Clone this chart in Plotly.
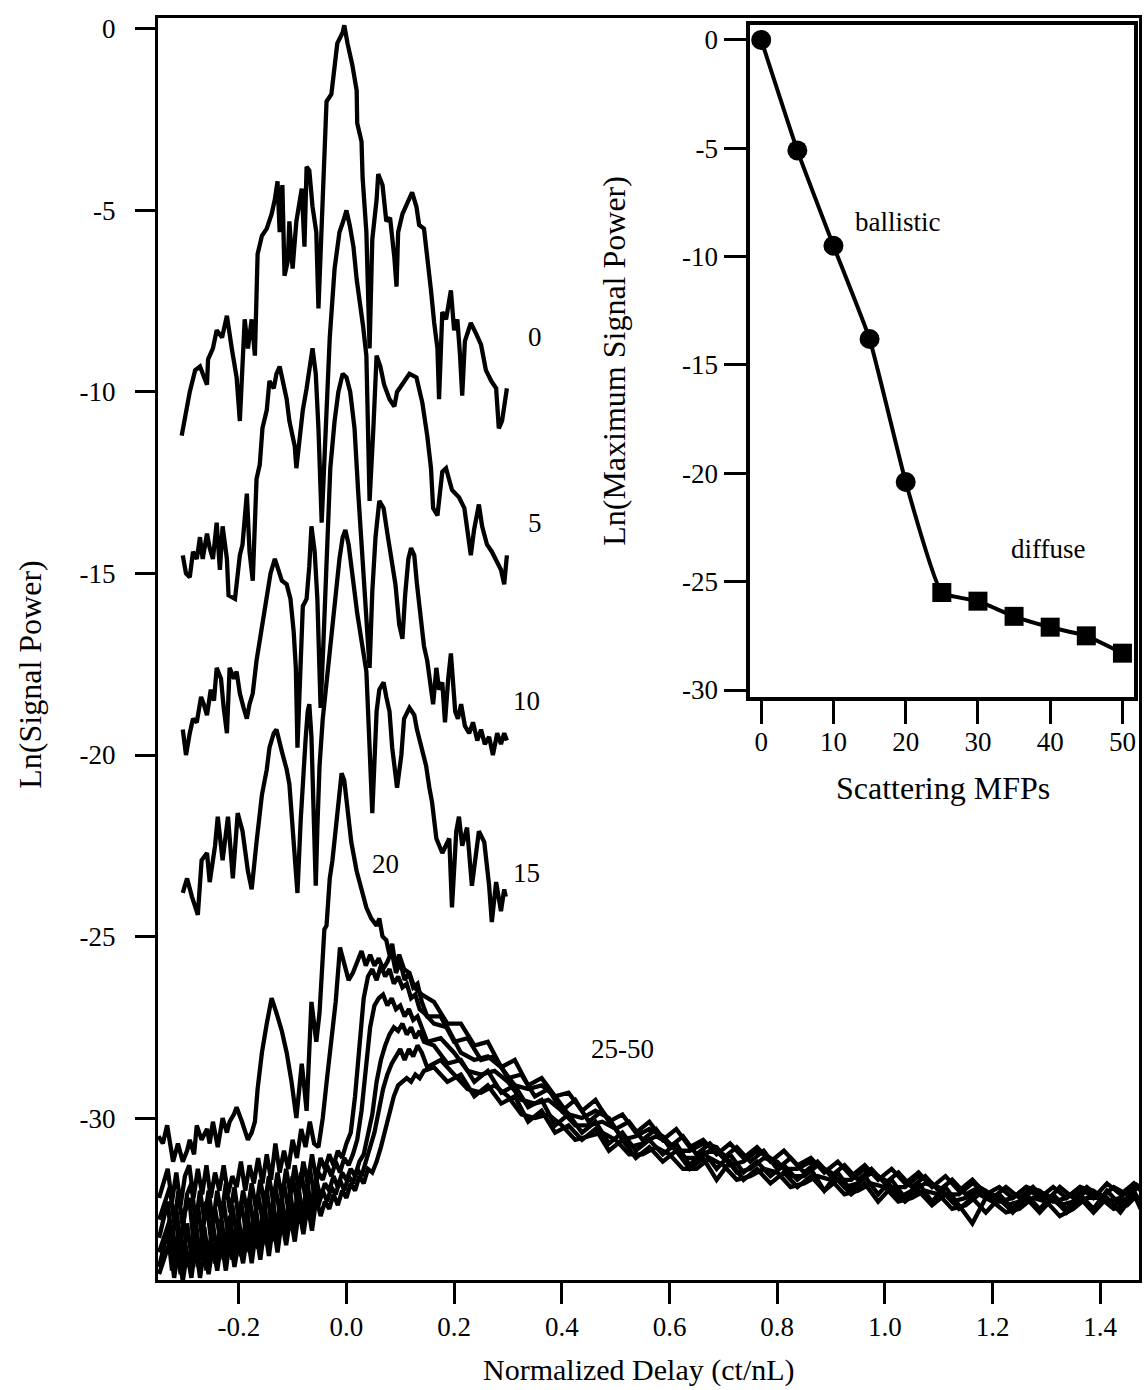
import plotly.graph_objects as go

FONT = "Liberation Serif, Times New Roman, serif"

# ---------------- main panel: ballistic traces (x = normalized delay, y = ln power) -------------
T0 = [(-0.306,-11.2),(-0.291,-10.0),(-0.281,-9.4),(-0.272,-9.3),(-0.259,-9.8),(-0.257,-9.1),(-0.248,-8.8),
      (-0.241,-8.3),(-0.231,-8.5),(-0.222,-7.9),(-0.213,-8.8),(-0.204,-9.6),(-0.198,-10.8),(-0.194,-9.3),
      (-0.189,-8.0),(-0.183,-8.8),(-0.176,-8.0),(-0.170,-9.0),(-0.167,-7.5),(-0.165,-6.2),(-0.157,-5.7),
      (-0.148,-5.5),(-0.139,-5.1),(-0.133,-4.7),(-0.128,-4.2),(-0.124,-5.6),(-0.119,-4.3),(-0.115,-6.8),
      (-0.109,-6.4),(-0.106,-5.3),(-0.100,-6.6),(-0.093,-5.3),(-0.083,-4.4),(-0.078,-6.0),(-0.074,-3.8),
      (-0.069,-3.9),(-0.063,-4.9),(-0.056,-5.6),(-0.052,-7.7),(-0.044,-4.3),(-0.041,-3.1),(-0.037,-2.0),
      (-0.028,-1.8),(-0.022,-1.0),(-0.017,-0.4),(-0.007,-0.1),(-0.004,0.1),(0.002,-0.4),(0.011,-1.0),
      (0.019,-1.7),(0.020,-2.6),(0.028,-3.1),(0.030,-4.1),(0.037,-5.6),(0.039,-7.0),(0.043,-8.8),
      (0.048,-5.8),(0.056,-4.7),(0.059,-4.0),(0.067,-4.3),(0.074,-5.3),(0.081,-5.2),(0.089,-6.3),
      (0.093,-7.1),(0.096,-5.6),(0.104,-5.1),(0.113,-4.8),(0.122,-4.5),(0.130,-4.9),(0.135,-5.4),
      (0.144,-5.5),(0.150,-6.2),(0.157,-7.2),(0.163,-8.1),(0.169,-8.8),(0.172,-10.2),(0.178,-7.8),
      (0.185,-8.0),(0.194,-7.2),(0.200,-8.3),(0.206,-8.0),(0.211,-9.0),(0.215,-10.1),(0.220,-8.6),
      (0.231,-8.1),(0.241,-8.4),(0.250,-8.7),(0.259,-9.4),(0.269,-9.7),(0.278,-9.9),(0.283,-11.0),
      (0.289,-10.8),(0.296,-10.2),(0.298,-9.9)]

T5 = [(-0.304,-14.5),(-0.298,-15.0),(-0.291,-15.1),(-0.285,-14.4),(-0.278,-14.6),(-0.272,-14.0),
      (-0.267,-14.6),(-0.259,-13.9),(-0.254,-14.3),(-0.248,-14.6),(-0.241,-13.6),(-0.235,-14.9),
      (-0.230,-13.7),(-0.222,-14.6),(-0.219,-15.6),(-0.207,-15.7),(-0.198,-14.5),(-0.193,-14.2),
      (-0.185,-12.8),(-0.180,-14.4),(-0.174,-15.2),(-0.170,-13.9),(-0.167,-12.4),(-0.161,-12.0),
      (-0.156,-11.0),(-0.148,-10.5),(-0.143,-9.7),(-0.135,-9.9),(-0.130,-9.5),(-0.124,-9.3),
      (-0.119,-9.6),(-0.111,-10.2),(-0.106,-10.8),(-0.096,-11.5),(-0.093,-12.1),(-0.087,-11.2),
      (-0.081,-10.5),(-0.074,-9.9),(-0.069,-9.3),(-0.063,-8.8),(-0.057,-9.5),(-0.052,-11.0),
      (-0.046,-13.6),(-0.041,-12.0),(-0.031,-8.5),(-0.022,-6.6),(-0.013,-5.6),(-0.006,-5.3),
      (0.000,-5.0),(0.006,-5.4),(0.013,-6.0),(0.019,-6.9),(0.026,-7.6),(0.031,-8.2),(0.037,-9.0),
      (0.043,-13.0),(0.050,-11.0),(0.056,-9.0),(0.063,-9.3),(0.070,-9.8),(0.080,-10.2),(0.089,-10.4),
      (0.094,-10.0),(0.104,-9.8),(0.117,-9.5),(0.130,-9.6),(0.141,-10.3),(0.150,-11.2),(0.157,-12.1),
      (0.161,-13.2),(0.169,-13.4),(0.178,-12.2),(0.185,-12.1),(0.196,-12.7),(0.209,-12.9),(0.219,-13.2),
      (0.224,-13.7),(0.231,-14.5),(0.237,-13.8),(0.246,-13.1),(0.252,-13.7),(0.261,-14.2),(0.270,-14.4),
      (0.280,-14.7),(0.287,-14.9),(0.293,-15.3),(0.298,-14.5)]

T10 = [(-0.304,-19.3),(-0.298,-20.0),(-0.291,-19.4),(-0.285,-19.0),(-0.278,-19.1),(-0.270,-18.4),
       (-0.265,-18.6),(-0.259,-18.9),(-0.252,-18.2),(-0.246,-18.5),(-0.241,-17.6),(-0.233,-17.9),
       (-0.228,-18.7),(-0.222,-19.4),(-0.217,-17.6),(-0.209,-17.9),(-0.204,-17.7),(-0.198,-18.3),
       (-0.191,-18.7),(-0.185,-19.0),(-0.180,-18.6),(-0.174,-18.3),(-0.167,-17.4),(-0.161,-16.8),
       (-0.156,-16.3),(-0.148,-15.6),(-0.141,-15.0),(-0.133,-14.6),(-0.128,-14.8),(-0.120,-15.2),
       (-0.111,-15.3),(-0.104,-15.7),(-0.098,-16.6),(-0.094,-17.6),(-0.091,-19.8),(-0.085,-17.4),
       (-0.081,-15.9),(-0.074,-15.7),(-0.069,-14.8),(-0.065,-13.7),(-0.059,-14.4),(-0.054,-15.7),
       (-0.048,-18.7),(-0.043,-17.0),(-0.037,-14.5),(-0.030,-12.1),(-0.022,-10.8),(-0.015,-10.0),
       (-0.007,-9.5),(0.000,-9.6),(0.007,-10.0),(0.015,-11.0),(0.022,-12.8),(0.030,-14.5),(0.037,-16.0),
       (0.043,-17.6),(0.048,-15.5),(0.054,-14.0),(0.061,-13.0),(0.069,-13.2),(0.076,-13.9),(0.083,-14.6),
       (0.091,-15.3),(0.098,-16.4),(0.104,-16.8),(0.109,-15.6),(0.115,-14.6),(0.120,-14.3),(0.126,-14.5),
       (0.131,-15.3),(0.137,-16.0),(0.144,-17.0),(0.150,-17.4),(0.156,-18.1),(0.161,-18.6),(0.167,-17.6),
       (0.172,-18.2),(0.178,-18.0),(0.183,-19.1),(0.189,-17.9),(0.194,-17.2),(0.202,-18.8),(0.207,-19.0),
       (0.213,-18.6),(0.220,-19.2),(0.228,-19.4),(0.235,-19.1),(0.243,-19.6),(0.250,-19.3),(0.257,-19.7),
       (0.265,-19.5),(0.272,-20.0),(0.280,-19.4),(0.287,-19.7),(0.293,-19.4),(0.298,-19.6)]

T15 = [(-0.304,-23.8),(-0.296,-23.4),(-0.287,-23.9),(-0.276,-24.4),(-0.269,-22.9),(-0.259,-22.7),
       (-0.254,-23.5),(-0.244,-22.5),(-0.239,-21.7),(-0.230,-22.9),(-0.220,-21.7),(-0.211,-23.4),
       (-0.202,-21.6),(-0.193,-22.1),(-0.183,-23.2),(-0.176,-23.7),(-0.167,-22.4),(-0.157,-21.1),
       (-0.148,-20.4),(-0.143,-19.8),(-0.135,-19.4),(-0.130,-19.3),(-0.120,-19.9),(-0.111,-20.4),
       (-0.106,-20.8),(-0.100,-22.0),(-0.094,-23.0),(-0.091,-23.8),(-0.085,-21.8),(-0.081,-20.7),
       (-0.076,-19.6),(-0.072,-18.8),(-0.069,-18.6),(-0.065,-19.5),(-0.061,-21.5),(-0.057,-23.6),
       (-0.054,-22.0),(-0.050,-20.3),(-0.044,-19.0),(-0.037,-18.0),(-0.031,-17.0),(-0.024,-16.0),
       (-0.019,-15.3),(-0.013,-14.6),(-0.007,-14.0),(-0.002,-13.8),(0.004,-14.2),(0.009,-14.9),
       (0.015,-15.5),(0.020,-16.1),(0.030,-17.0),(0.037,-17.7),(0.043,-19.8),(0.048,-21.6),(0.052,-20.2),
       (0.056,-18.8),(0.061,-18.2),(0.069,-18.0),(0.074,-18.4),(0.080,-18.8),(0.085,-19.8),(0.091,-20.4),
       (0.094,-20.9),(0.102,-20.0),(0.107,-19.0),(0.117,-18.7),(0.126,-18.9),(0.131,-19.3),(0.139,-19.8),
       (0.148,-20.3),(0.154,-20.9),(0.159,-21.3),(0.167,-22.3),(0.178,-22.7),(0.191,-22.3),(0.196,-24.2),
       (0.204,-22.1),(0.209,-21.7),(0.215,-22.5),(0.224,-22.0),(0.233,-23.6),(0.241,-22.6),(0.246,-22.1),
       (0.256,-22.4),(0.265,-23.6),(0.270,-24.6),(0.278,-23.5),(0.287,-24.3),(0.293,-23.7),(0.296,-23.9)]

# ---------------- main panel: 20 MFP trace (own early grid) -------------
T20_EARLY = [(-0.349,-30.5),(-0.341,-30.7),(-0.333,-30.2),(-0.328,-30.6),(-0.322,-31.2),(-0.313,-30.7),
             (-0.304,-31.2),(-0.296,-30.9),(-0.291,-30.6),(-0.283,-31.0),(-0.278,-30.2),(-0.269,-30.6),
             (-0.259,-30.3),(-0.254,-30.7),(-0.248,-30.1),(-0.239,-30.8),(-0.230,-30.0),(-0.222,-30.4),
             (-0.217,-30.1),(-0.209,-29.9),(-0.204,-29.7),(-0.194,-30.1),(-0.183,-30.6),(-0.176,-30.4),
             (-0.170,-30.1),(-0.165,-29.2),(-0.157,-28.2),(-0.148,-27.4),(-0.139,-26.7),(-0.130,-27.1),
             (-0.120,-27.6),(-0.111,-28.2),(-0.102,-29.0),(-0.093,-30.0),(-0.083,-28.5),(-0.078,-29.2),
             (-0.074,-29.8),(-0.065,-26.8),(-0.059,-27.5),(-0.056,-27.9),(-0.050,-27.1),(-0.044,-25.7),
             (-0.041,-24.8),(-0.037,-24.7),(-0.031,-23.4),(-0.026,-22.9),(-0.019,-22.0),(-0.013,-21.2),
             (-0.009,-20.5),(-0.004,-20.7),(0.002,-21.5),(0.009,-22.4),(0.019,-23.2),(0.028,-23.7),
             (0.037,-24.2),(0.046,-24.5),(0.056,-24.7),(0.061,-24.5),(0.067,-25.0),(0.074,-25.1),
             (0.080,-25.5),(0.085,-25.2),(0.091,-25.8),(0.098,-25.5),(0.107,-25.9),(0.117,-26.0),
             (0.126,-26.4),(0.140,-26.6)]

# ---------------- main panel: diffuse traces 25..50 on two interleaved delay grids -------------
LX = [-0.348, -0.332, -0.324, -0.316, -0.308, -0.300, -0.292, -0.284, -0.276, -0.268,
      -0.260, -0.252, -0.244, -0.236, -0.228, -0.220, -0.212, -0.204, -0.196, -0.188,
      -0.180, -0.172, -0.164, -0.156, -0.148, -0.140, -0.132, -0.124, -0.116, -0.108,
      -0.100, -0.092, -0.084, -0.076, -0.068, -0.060, -0.052, -0.044, -0.036, -0.028,
      -0.020, -0.012, -0.004, 0.004, 0.012, 0.020, 0.028, 0.036, 0.044, 0.052,
      0.060, 0.068, 0.076, 0.084, 0.092, 0.100, 0.108, 0.116, 0.124, 0.132, 0.140]
LX_B = [-0.348, -0.328, -0.320, -0.312, -0.304, -0.296, -0.288, -0.280, -0.272, -0.264,
        -0.256, -0.248, -0.240, -0.232, -0.224, -0.216, -0.208, -0.200, -0.192, -0.184,
        -0.176, -0.168, -0.160, -0.152, -0.144, -0.136, -0.128, -0.120, -0.112, -0.104,
        -0.096, -0.088, -0.080, -0.072, -0.064, -0.056, -0.048, -0.040, -0.032, -0.024,
        -0.016, -0.008, 0.000, 0.008, 0.016, 0.024, 0.032, 0.040, 0.048, 0.056,
        0.064, 0.072, 0.080, 0.088, 0.096, 0.104, 0.112, 0.120, 0.128, 0.136, 0.144]
TX = [0.150, 0.175, 0.200, 0.225, 0.250, 0.275, 0.300, 0.325, 0.350, 0.375,
      0.400, 0.425, 0.450, 0.475, 0.500, 0.525, 0.550, 0.575, 0.600, 0.625,
      0.650, 0.675, 0.700, 0.725, 0.750, 0.775, 0.800, 0.825, 0.850, 0.875,
      0.900, 0.925, 0.950, 0.975, 1.000, 1.025, 1.050, 1.075, 1.100, 1.125,
      1.150, 1.175, 1.200, 1.225, 1.250, 1.275, 1.300, 1.325, 1.350, 1.375,
      1.400, 1.425, 1.450, 1.470]
TX_B = [0.1625, 0.1875, 0.2125, 0.2375, 0.2625, 0.2875, 0.3125, 0.3375, 0.3625, 0.3875,
        0.4125, 0.4375, 0.4625, 0.4875, 0.5125, 0.5375, 0.5625, 0.5875, 0.6125, 0.6375,
        0.6625, 0.6875, 0.7125, 0.7375, 0.7625, 0.7875, 0.8125, 0.8375, 0.8625, 0.8875,
        0.9125, 0.9375, 0.9625, 0.9875, 1.0125, 1.0375, 1.0625, 1.0875, 1.1125, 1.1375,
        1.1625, 1.1875, 1.2125, 1.2375, 1.2625, 1.2875, 1.3125, 1.3375, 1.3625, 1.3875,
        1.4125, 1.4375, 1.4625, 1.4750]

Y20_TAIL = [-26.8, -27.4, -27.4, -28.0, -27.9, -28.6, -28.4, -29.1, -28.9, -29.4,
            -29.3, -29.8, -29.5, -30.1, -29.9, -30.4, -30.1, -30.6, -30.3, -30.8,
            -30.6, -31.0, -30.7, -31.1, -30.8, -31.2, -30.9, -31.3, -31.1, -31.5,
            -31.2, -31.6, -31.3, -31.7, -31.4, -31.8, -31.5, -31.9, -31.6, -32.0,
            -31.7, -32.1, -31.9, -32.2, -31.9, -32.2, -31.9, -32.2, -31.9, -32.2,
            -31.8, -32.1, -31.8, -32.0]

Y25_EARLY = [-32.2, -31.4, -32.3, -31.5, -32.4, -31.6, -31.3, -32.2, -31.4, -32.1,
             -31.3, -32.2, -31.5, -32.0, -31.3, -32.1, -31.6, -31.9, -31.2, -32.0,
             -31.3, -31.8, -31.1, -31.8, -31.0, -31.7, -30.7, -31.5, -30.9, -31.4,
             -30.6, -31.1, -30.3, -30.8, -30.1, -30.7, -30.8, -30.0, -28.9, -27.8,
             -26.8, -25.3, -25.7, -26.2, -26.0, -25.7, -25.4, -25.8, -25.5, -25.8,
             -25.6, -25.9, -25.7, -25.4, -26.0, -25.7, -26.2, -26.0, -26.4, -26.3, -26.8]
Y25_TAIL = [-27.2, -27.2, -27.9, -27.8, -28.4, -28.3, -28.9, -28.8, -29.4, -29.2,
            -29.8, -29.5, -30.1, -29.8, -30.3, -30.1, -30.6, -30.3, -30.8, -30.5,
            -31.0, -30.7, -31.1, -30.8, -31.2, -30.9, -31.4, -31.1, -31.5, -31.2,
            -31.6, -31.3, -31.7, -31.4, -31.8, -31.5, -31.9, -31.6, -32.0, -31.7,
            -32.1, -31.9, -32.2, -31.9, -32.2, -31.9, -32.3, -31.9, -32.2, -31.9,
            -32.2, -31.9, -32.1, -31.8]

Y30_EARLY = [-32.8, -31.9, -32.9, -32.0, -33.0, -32.1, -31.8, -32.9, -32.0, -32.8,
             -32.0, -32.9, -32.0, -32.7, -31.8, -32.6, -31.9, -32.8, -32.0, -32.6,
             -31.8, -32.5, -31.7, -32.4, -31.6, -32.3, -31.5, -32.2, -31.4, -32.1,
             -31.3, -32.0, -31.2, -31.8, -31.0, -31.7, -31.1, -31.4, -31.0, -31.3,
             -30.9, -31.1, -30.7, -30.4, -29.4, -28.0, -26.7, -26.1, -25.9, -26.2,
             -25.8, -26.1, -25.9, -26.3, -26.1, -26.4, -26.3, -26.7, -26.6, -27.0, -27.1]
Y30_TAIL = [-27.4, -27.5, -28.2, -28.4, -28.3, -28.6, -29.1, -29.2, -29.1, -29.4,
            -29.9, -30.0, -29.8, -30.0, -30.6, -30.5, -30.3, -30.5, -30.9, -30.9,
            -30.7, -30.8, -31.3, -31.2, -30.9, -31.1, -31.4, -31.4, -31.2, -31.4,
            -31.7, -31.7, -31.4, -31.6, -31.9, -31.9, -31.6, -31.8, -32.1, -32.1,
            -31.8, -32.0, -32.3, -32.2, -31.9, -32.0, -32.3, -32.2, -31.9, -32.0,
            -32.3, -32.2, -31.8, -31.9]

Y35_EARLY = [-33.3, -32.3, -33.5, -32.5, -33.5, -32.6, -32.2, -33.4, -32.4, -33.3,
             -32.3, -33.3, -32.5, -33.2, -32.3, -33.2, -32.4, -33.2, -32.3, -33.0,
             -32.2, -33.0, -32.1, -32.8, -32.0, -32.8, -31.9, -32.6, -31.8, -32.5,
             -31.6, -32.3, -31.5, -32.2, -31.4, -32.1, -31.5, -31.7, -31.3, -31.6,
             -31.2, -31.5, -31.1, -31.3, -31.0, -30.6, -29.8, -28.6, -27.5, -26.9,
             -26.7, -26.6, -26.9, -26.7, -27.0, -26.9, -27.2, -27.0, -27.3, -27.2, -27.5]
Y35_TAIL = [-27.9, -27.8, -28.2, -28.7, -28.8, -28.7, -29.0, -29.5, -29.6, -29.5,
            -29.8, -30.2, -30.2, -30.1, -30.3, -30.8, -30.7, -30.5, -30.7, -31.1,
            -31.1, -30.9, -31.0, -31.5, -31.4, -31.1, -31.2, -31.6, -31.6, -31.3,
            -31.5, -31.9, -31.8, -31.5, -31.7, -32.2, -32.0, -31.8, -31.9, -32.3,
            -32.2, -32.0, -32.1, -32.4, -32.3, -32.0, -32.1, -32.4, -32.3, -32.0,
            -32.1, -32.4, -32.2, -31.9]

Y40_EARLY = [-33.7, -32.8, -34.0, -33.0, -34.0, -32.9, -33.8, -32.8, -33.9, -33.0,
             -33.9, -32.9, -33.8, -32.8, -33.7, -32.7, -33.7, -32.8, -33.6, -32.6,
             -33.5, -32.5, -33.4, -32.4, -33.3, -32.3, -33.2, -32.2, -33.1, -32.1,
             -32.9, -32.0, -32.8, -31.8, -32.7, -31.7, -32.2, -31.8, -32.0, -31.6,
             -31.9, -31.5, -31.7, -31.4, -31.6, -31.2, -31.0, -30.5, -29.9, -29.0,
             -28.4, -28.0, -27.7, -27.5, -27.6, -27.4, -27.7, -27.5, -27.8, -27.6, -27.9]
Y40_TAIL = [-28.0, -28.5, -28.4, -29.0, -28.7, -29.3, -29.1, -29.7, -29.5, -30.2,
            -29.9, -30.4, -30.1, -30.7, -30.4, -30.9, -30.6, -31.0, -30.7, -31.3,
            -30.9, -31.4, -31.0, -31.5, -31.2, -31.6, -31.3, -31.7, -31.4, -32.0,
            -31.5, -32.0, -31.6, -32.1, -31.7, -32.2, -31.8, -32.3, -31.9, -32.4,
            -32.9, -32.2, -32.1, -32.5, -32.1, -32.5, -32.1, -32.5, -32.1, -32.5,
            -32.0, -32.4, -32.0, -32.4]

Y45_EARLY = [-34.1, -33.1, -34.2, -33.3, -34.3, -33.4, -34.1, -33.1, -34.1, -33.2,
             -34.2, -33.3, -34.0, -33.1, -33.9, -33.0, -33.9, -33.1, -33.8, -32.9,
             -33.7, -32.8, -33.6, -32.7, -33.5, -32.6, -33.4, -32.5, -33.2, -32.4,
             -33.1, -32.2, -32.9, -32.1, -32.8, -31.9, -32.4, -32.0, -32.3, -31.9,
             -32.1, -31.7, -32.0, -31.6, -31.8, -31.4, -31.6, -31.2, -30.9, -30.4,
             -29.8, -29.2, -28.8, -28.5, -28.3, -28.1, -28.4, -28.1, -28.3, -28.0, -28.2]
Y45_TAIL = [-28.6, -28.4, -28.8, -29.2, -29.3, -29.1, -29.4, -29.9, -30.0, -29.9,
            -30.2, -30.6, -30.5, -30.4, -30.6, -31.0, -31.0, -30.8, -31.0, -31.4,
            -31.4, -31.1, -31.3, -31.7, -31.6, -31.4, -31.5, -31.9, -31.8, -31.6,
            -31.7, -32.1, -32.0, -31.8, -31.9, -32.3, -32.2, -32.0, -32.1, -32.5,
            -32.4, -32.1, -32.3, -32.6, -32.5, -32.2, -32.3, -32.7, -32.5, -32.2,
            -32.2, -32.5, -32.4, -32.1]

Y50_EARLY = [-34.3, -33.4, -34.4, -33.6, -34.5, -33.7, -34.4, -33.5, -34.4, -33.6,
             -34.3, -33.5, -34.2, -33.4, -34.2, -33.3, -34.1, -33.4, -34.0, -33.2,
             -34.0, -33.1, -33.9, -33.0, -33.8, -32.9, -33.7, -32.8, -33.5, -32.7,
             -33.4, -32.5, -33.2, -32.4, -33.1, -32.2, -32.7, -32.3, -32.5, -32.1,
             -32.4, -32.0, -32.2, -31.8, -32.0, -31.6, -31.8, -31.4, -31.5, -31.2,
             -30.8, -30.3, -29.8, -29.4, -29.1, -29.0, -28.9, -29.0, -28.8, -28.9, -28.7]
Y50_TAIL = [-28.6, -29.0, -28.8, -29.4, -29.1, -29.6, -29.4, -30.1, -29.8, -30.4,
            -30.2, -30.6, -30.3, -30.9, -30.6, -31.1, -30.8, -31.2, -30.9, -31.4,
            -31.1, -31.7, -31.2, -31.7, -31.4, -31.8, -31.5, -31.9, -31.6, -32.0,
            -31.7, -32.1, -31.8, -32.3, -31.9, -32.3, -32.0, -32.4, -32.1, -32.5,
            -32.2, -32.6, -32.2, -32.6, -32.2, -32.6, -32.2, -32.6, -32.2, -32.6,
            -32.2, -32.6, -32.1, -32.5]

X_TICKS = [-0.2, 0.0, 0.2, 0.4, 0.6, 0.8, 1.0, 1.2, 1.4]
X_TICKTEXT = ["-0.2", "0.0", "0.2", "0.4", "0.6", "0.8", "1.0", "1.2", "1.4"]
Y_TICKS = [0, -5, -10, -15, -20, -25, -30]
Y_TICKTEXT = ["0", "-5", "-10", "-15", "-20", "-25", "-30"]

# trace labels: (text, delay, ln power)
TRACE_LABELS = [("0", 0.350, -8.5), ("5", 0.350, -13.6), ("10", 0.335, -18.5),
                ("15", 0.335, -23.25), ("20", 0.072, -23.0), ("25-50", 0.513, -28.1)]

# ---------------- inset data -------------
MFP_BALLISTIC = [0, 5, 10, 15, 20]
PEAK_BALLISTIC = [0.0, -5.1, -9.5, -13.8, -20.4]
MFP_DIFFUSE = [25, 30, 35, 40, 45, 50]
PEAK_DIFFUSE = [-25.5, -25.9, -26.6, -27.1, -27.5, -28.3]
INSET_X_TICKS = [0, 10, 20, 30, 40, 50]
INSET_Y_TICKS = [0, -5, -10, -15, -20, -25, -30]
INSET_Y_TICKTEXT = ["0", "-5", "-10", "-15", "-20", "-25", "-30"]

for grid in (LX_B,):
    assert len(grid) == len(LX)
assert len(TX_B) == len(TX)
for early in (Y25_EARLY, Y30_EARLY, Y35_EARLY, Y40_EARLY, Y45_EARLY, Y50_EARLY):
    assert len(early) == len(LX), len(early)
for tail in (Y20_TAIL, Y25_TAIL, Y30_TAIL, Y35_TAIL, Y40_TAIL, Y45_TAIL, Y50_TAIL):
    assert len(tail) == len(TX), len(tail)

fig = go.Figure()
LINE = dict(color="black", width=4.3)


def add_main(xs, ys):
    fig.add_trace(go.Scatter(x=xs, y=ys, mode="lines", line=LINE, showlegend=False,
                             hoverinfo="skip", xaxis="x", yaxis="y"))


for pairs in (T0, T5, T10, T15):
    add_main([p[0] for p in pairs], [p[1] for p in pairs])

add_main([p[0] for p in T20_EARLY] + TX_B, [p[1] for p in T20_EARLY] + Y20_TAIL)
add_main(LX + TX, Y25_EARLY + Y25_TAIL)
add_main(LX_B + TX_B, Y30_EARLY + Y30_TAIL)
add_main(LX + TX, Y35_EARLY + Y35_TAIL)
add_main(LX_B + TX_B, Y40_EARLY + Y40_TAIL)
add_main(LX + TX, Y45_EARLY + Y45_TAIL)
add_main(LX_B + TX_B, Y50_EARLY + Y50_TAIL)

# inset
fig.add_trace(go.Scatter(x=MFP_BALLISTIC + MFP_DIFFUSE, y=PEAK_BALLISTIC + PEAK_DIFFUSE,
                         mode="lines", line=dict(color="black", width=4, shape="spline", smoothing=0.4),
                         showlegend=False, hoverinfo="skip", xaxis="x2", yaxis="y2"))
fig.add_trace(go.Scatter(x=MFP_BALLISTIC, y=PEAK_BALLISTIC, mode="markers",
                         marker=dict(symbol="circle", size=20, color="black"),
                         showlegend=False, cliponaxis=False, xaxis="x2", yaxis="y2"))
fig.add_trace(go.Scatter(x=MFP_DIFFUSE, y=PEAK_DIFFUSE, mode="markers",
                         marker=dict(symbol="square", size=19, color="black"),
                         showlegend=False, cliponaxis=False, xaxis="x2", yaxis="y2"))

TICKFONT = dict(family=FONT, size=27, color="black")
AX = dict(showgrid=False, zeroline=False, showline=True, linecolor="black", ticks="outside",
          tickcolor="black", tickfont=TICKFONT, mirror=True)

fig.update_layout(
    width=1145, height=1390,
    margin=dict(l=158, r=3, t=18, b=110),
    paper_bgcolor="white", plot_bgcolor="white",
    font=dict(family=FONT, color="black"),
    showlegend=False,
    xaxis=dict(AX, domain=[0, 1], range=[-0.35, 1.472], tickvals=X_TICKS, ticktext=X_TICKTEXT,
               ticklen=21, tickwidth=2.5, linewidth=3, ticklabelstandoff=0, anchor="y"),
    yaxis=dict(AX, domain=[0, 1], range=[-34.46, 0.30], tickvals=Y_TICKS, ticktext=Y_TICKTEXT,
               ticklen=20, tickwidth=2.5, linewidth=3, ticklabelstandoff=14, anchor="x"),
    xaxis2=dict(AX, domain=[0.6037, 0.9949], range=[-1.52, 51.6], tickvals=INSET_X_TICKS,
                ticklen=23, tickwidth=2.5, linewidth=3.5, ticklabelstandoff=-5, anchor="y2"),
    yaxis2=dict(AX, domain=[0.462, 0.9945], range=[-30.32, 0.69], tickvals=INSET_Y_TICKS,
                ticktext=INSET_Y_TICKTEXT, ticklen=22, tickwidth=2.5, linewidth=3.5,
                ticklabelstandoff=1, anchor="x2"),
)

LABELFONT = dict(family=FONT, size=27, color="black")
for text, x, y in TRACE_LABELS:
    fig.add_annotation(x=x, y=y, xref="x", yref="y", text=text, showarrow=False, font=LABELFONT)
fig.add_annotation(x=18.9, y=-8.4, xref="x2", yref="y2", text="ballistic", showarrow=False, font=LABELFONT)
fig.add_annotation(x=39.7, y=-23.5, xref="x2", yref="y2", text="diffuse", showarrow=False, font=LABELFONT)

fig.add_annotation(x=-0.130, y=0.48, xref="paper", yref="paper", text="Ln(Signal Power)",
                   textangle=-90, showarrow=False, font=dict(family=FONT, size=32, color="black"),
                   xanchor="center", yanchor="middle")
fig.add_annotation(x=0.49, y=-0.0713, xref="paper", yref="paper", text="Normalized Delay (ct/nL)",
                   showarrow=False, font=dict(family=FONT, size=30, color="black"),
                   xanchor="center", yanchor="middle")
fig.add_annotation(x=0.4654, y=0.728, xref="paper", yref="paper", text="Ln(Maximum Signal Power)",
                   textangle=-90, showarrow=False, font=dict(family=FONT, size=32, color="black"),
                   xanchor="center", yanchor="middle")
fig.add_annotation(x=0.80, y=0.39, xref="paper", yref="paper", text="Scattering MFPs",
                   showarrow=False, font=dict(family=FONT, size=32, color="black"),
                   xanchor="center", yanchor="middle")

fig.write_html("out.html", include_plotlyjs=True, config={"displayModeBar": False},
               post_script="document.body.style.margin='0';")
